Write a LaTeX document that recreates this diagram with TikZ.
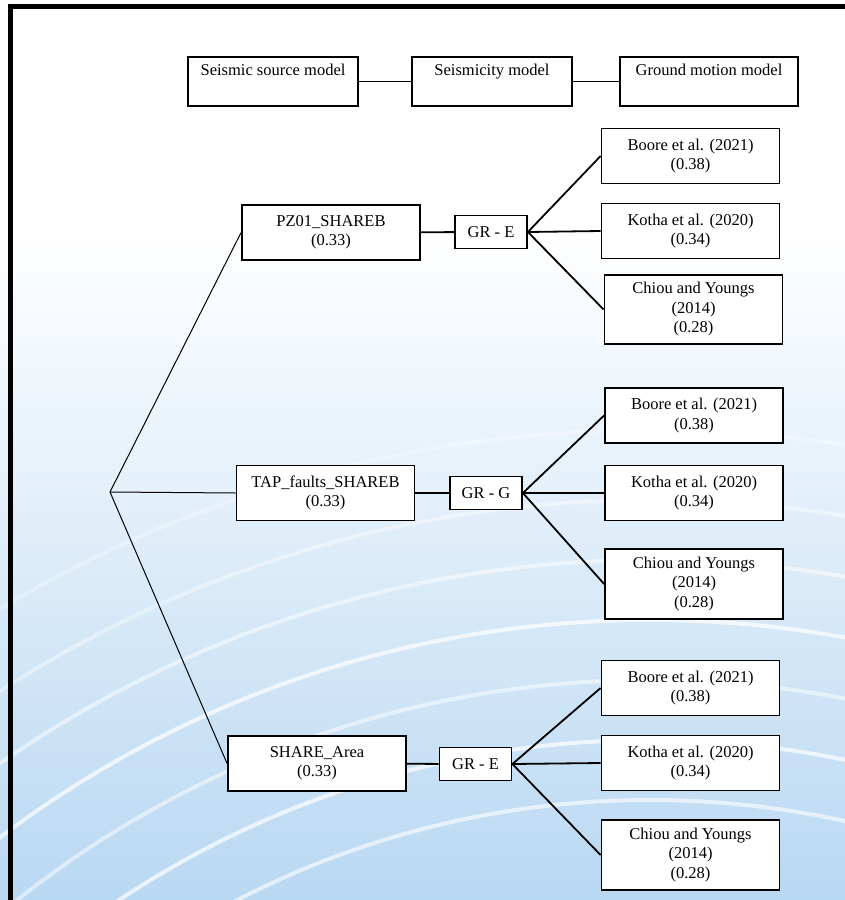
\documentclass[tikz,border=0pt]{standalone}
\usepackage{fontspec}
\setmainfont{Liberation Serif}
\definecolor{skyblue}{RGB}{185,216,242}
\begin{document}
\begin{tikzpicture}[x=1pt, y=-1pt,
    every node/.style={font=\fontsize{16.5}{19.5}\selectfont, align=center, inner sep=0pt},
    box/.style={draw, line width=1.8pt, fill=white, minimum width=178pt, minimum height=55pt},
    headbox/.style={draw, line width=1.8pt, fill=white, text height=18pt, text depth=31pt},
    grbox/.style={draw, line width=1.8pt, fill=white, minimum width=72pt, minimum height=33pt},
    link/.style={line width=1.8pt},
    twig/.style={line width=1pt}]
  \useasboundingbox (0,0) rectangle (845,900);

  % background
  \fill[white] (0,0) rectangle (845,900);
  \shade[top color=white, bottom color=skyblue] (0,230) rectangle (845,900);
  \begin{scope}
    \clip (0,0) rectangle (845,900);
    \foreach \r/\o in {900/0.6, 960/0.7, 1020/0.5, 1080/0.7, 1140/0.5, 1200/0.4, 1270/0.3}
      \draw[white, line width=4pt, opacity=\o] (650,1700) circle (\r);
  \end{scope}

  % frame
  \draw[line width=5pt] (10,905) -- (10,6) -- (850,6);

  % header row
  \node[headbox, minimum width=170pt] (srcmodel) at (273,81.5) {Seismic source model};
  \node[headbox, minimum width=160pt] (seismodel) at (492,81.5) {Seismicity model};
  \node[headbox, minimum width=178pt] (gmmodel) at (709,81.5) {Ground motion model};
  \draw[link] (srcmodel) -- (seismodel);
  \draw[link] (seismodel) -- (gmmodel);

  % source models
  \coordinate (root) at (110,492);
  \node[box] (pz) at (331,232.5) {PZ01\_SHAREB\\(0.33)};
  \node[box] (tap) at (325.5,493) {TAP\_faults\_SHAREB\\(0.33)};
  \node[box] (area) at (317,763.5) {SHARE\_Area\\(0.33)};

  % seismicity models
  \node[grbox] (gra) at (491,232) {GR - E};
  \node[grbox] (grb) at (486,493) {GR - G};
  \node[grbox] (grc) at (475.5,764) {GR - E};

  % ground motion models
  \node[box] (boorea) at (690.5,156) {Boore et al. (2021)\\(0.38)};
  \node[box] (kothaa) at (690.5,231) {Kotha et al. (2020)\\(0.34)};
  \node[box, minimum height=69pt] (chioua) at (693.5,309.5) {Chiou and Youngs\\(2014)\\(0.28)};

  \node[box] (booreb) at (694,415.5) {Boore et al. (2021)\\(0.38)};
  \node[box] (kothab) at (694,493) {Kotha et al. (2020)\\(0.34)};
  \node[box, minimum height=70pt] (chioub) at (694,584) {Chiou and Youngs\\(2014)\\(0.28)};

  \node[box] (boorec) at (690.5,688) {Boore et al. (2021)\\(0.38)};
  \node[box] (kothac) at (690.5,763) {Kotha et al. (2020)\\(0.34)};
  \node[box, minimum height=70pt] (chiouc) at (690.5,855) {Chiou and Youngs\\(2014)\\(0.28)};

  \draw[twig] (root) -- (pz.west);
  \draw[twig] (root) -- (tap.west);
  \draw[twig] (root) -- (area.west);

  \draw[link] (pz) -- (gra);
  \draw[link] (tap) -- (grb);
  \draw[link] (area) -- (grc);

  \draw[link] (gra.east) -- (boorea.west);
  \draw[link] (gra.east) -- (kothaa.west);
  \draw[link] (gra.east) -- (chioua.west);
  \draw[link] (grb.east) -- (booreb.west);
  \draw[link] (grb.east) -- (kothab.west);
  \draw[link] (grb.east) -- (chioub.west);
  \draw[link] (grc.east) -- (boorec.west);
  \draw[link] (grc.east) -- (kothac.west);
  \draw[link] (grc.east) -- (chiouc.west);
\end{tikzpicture}
\end{document}
